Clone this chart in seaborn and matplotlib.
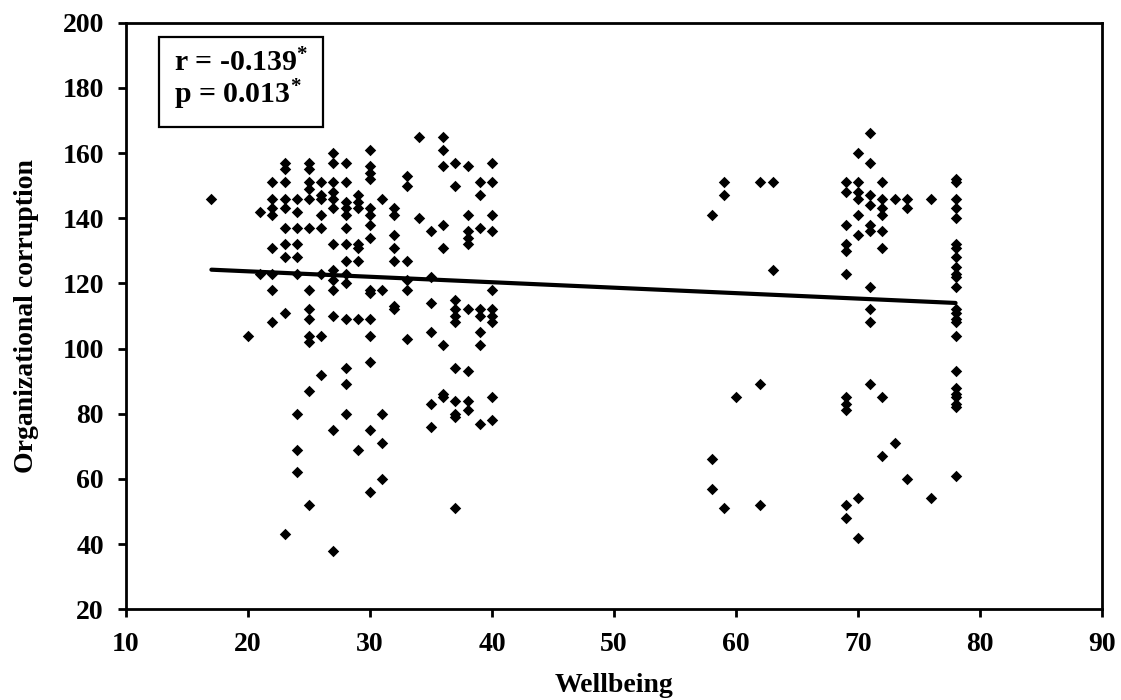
import matplotlib
matplotlib.use("Agg")
import matplotlib.pyplot as plt
import seaborn as sns
import numpy as np
import pandas as pd

# Wellbeing scores (x) and the organizational-corruption scores observed at each one
wellbeing_levels = [17, 20, 21, 22, 23, 24, 25, 26, 27, 28, 29, 30, 31, 32, 33, 34,
                    35, 36, 37, 38, 39, 40, 58, 59, 60, 62, 63, 69, 70, 71, 72, 73,
                    74, 76, 78]
corruption_at_level = [
    [146],
    [104],
    [142, 123],
    [151, 146, 143, 141, 131, 123, 118, 108],
    [157, 155, 151, 146, 143, 137, 132, 128, 111, 43],
    [146, 142, 137, 132, 128, 123, 80, 69, 62],
    [157, 155, 151, 149, 146, 137, 118, 112, 109, 104, 102, 87, 52],
    [151, 147, 146, 141, 137, 123, 104, 92],
    [160, 157, 151, 148, 146, 143, 132, 124, 121, 118, 110, 75, 38],
    [157, 151, 145, 143, 141, 137, 132, 127, 123, 120, 109, 94, 89, 80],
    [147, 145, 143, 132, 131, 127, 109, 69],
    [161, 156, 154, 152, 143, 141, 138, 134, 118, 117, 109, 104, 96, 75, 56],
    [146, 118, 80, 71, 60],
    [143, 141, 135, 131, 127, 113, 112],
    [153, 150, 127, 121, 118, 103],
    [165, 140],
    [136, 122, 114, 105, 83, 76],
    [165, 161, 156, 138, 131, 101, 86, 85],
    [157, 150, 115, 112, 110, 108, 94, 84, 80, 79, 51],
    [156, 141, 136, 134, 132, 112, 93, 84, 81],
    [151, 147, 137, 112, 110, 105, 101, 77],
    [157, 151, 141, 136, 118, 112, 110, 108, 85, 78],
    [141, 66, 57],
    [151, 147, 51],
    [85],
    [151, 89, 52],
    [151, 124],
    [151, 148, 138, 132, 130, 123, 85, 83, 81, 52, 48],
    [160, 151, 148, 146, 141, 135, 54, 42],
    [166, 157, 147, 144, 138, 136, 119, 112, 108, 89],
    [151, 146, 143, 141, 136, 131, 85, 67],
    [146, 71],
    [146, 143, 60],
    [146, 54],
    [152, 151, 146, 143, 140, 132, 131, 128, 125, 123, 122, 119, 112, 111,
     109, 108, 104, 93, 88, 86, 85, 83, 82, 61],
]

x_ticks = [10, 20, 30, 40, 50, 60, 70, 80, 90]
y_ticks = [20, 40, 60, 80, 100, 120, 140, 160, 180, 200]
stats_lines = ["r = -0.139", "p = 0.013"]

wellbeing = [x for x, ys in zip(wellbeing_levels, corruption_at_level) for _ in ys]
corruption = [y for ys in corruption_at_level for y in ys]
df = pd.DataFrame({"Wellbeing": wellbeing, "Organizational corruption": corruption})

sns.set_theme(style="white")
plt.rcParams["font.family"] = ["Liberation Serif", "DejaVu Serif"]
plt.rcParams["font.weight"] = "bold"
plt.rcParams["mathtext.fontset"] = "custom"
plt.rcParams["mathtext.rm"] = "Liberation Serif:bold"
plt.rcParams["mathtext.bf"] = "Liberation Serif:bold"
plt.rcParams["mathtext.it"] = "Liberation Serif:bold"
plt.rcParams["mathtext.default"] = "bf"

fig = plt.figure(figsize=(11.21, 7.0), dpi=100)
ax = fig.add_axes([0.1124, 0.1296, 0.8706, 0.838])

sns.regplot(data=df, x="Wellbeing", y="Organizational corruption", ax=ax,
            ci=None, truncate=True, marker="D",
            scatter_kws=dict(s=34, color="black", linewidths=0, alpha=1),
            line_kws=dict(color="black", lw=3))

ax.set_xlim(10, 90)
ax.set_ylim(20, 200)
ax.set_xticks(x_ticks)
ax.set_yticks(y_ticks)
ax.tick_params(axis="both", direction="out", length=6, width=2, color="black",
               labelsize=20, labelcolor="black", pad=10,
               bottom=True, left=True, top=False, right=False)
for lab in ax.get_xticklabels() + ax.get_yticklabels():
    lab.set_fontweight("bold")
for spine in ax.spines.values():
    spine.set_visible(True)
    spine.set_color("black")
    spine.set_linewidth(2)

ax.set_xlabel("Wellbeing", fontsize=20, fontweight="bold", color="black", labelpad=12)
ax.set_ylabel("Organizational corruption", fontsize=20, fontweight="bold",
              color="black", labelpad=17)

stats_text = "\n".join(s + "$^{*}$" for s in stats_lines)
ax.text(0.049, 0.955, stats_text, transform=ax.transAxes, ha="left", va="top",
        fontsize=21.5, fontweight="bold", color="black", linespacing=1.0,
        bbox=dict(boxstyle="square,pad=0.5", fc="white", ec="black", lw=1.6))

fig.savefig("out.png", dpi=100)
